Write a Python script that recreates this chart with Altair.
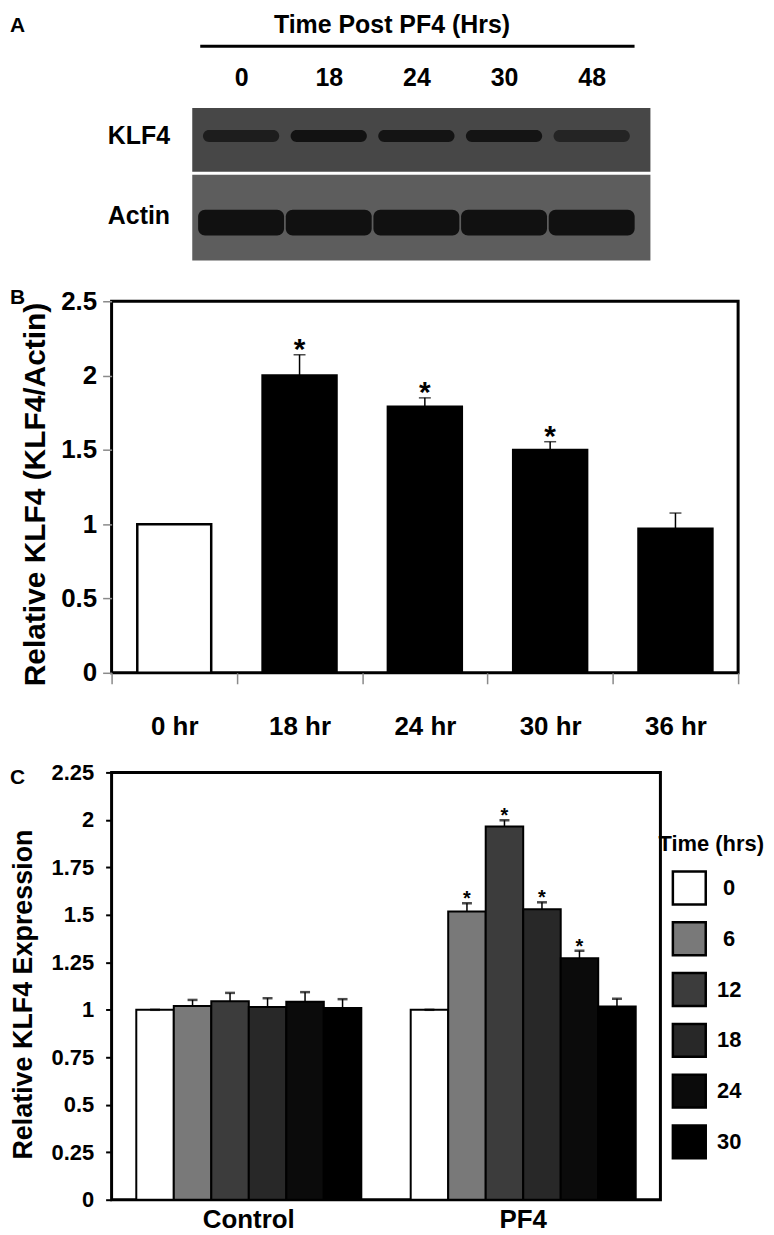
import json
import altair as alt
import pandas as pd

FONT = "Liberation Sans"

# ---------------- data ----------------
# Panel A (western blot)
A_LANES = ["0", "18", "24", "30", "48"]
A_ROWS = ["KLF4", "Actin"]
A_KLF4_BAND = [0.72, 0.92, 0.9, 0.9, 0.62]
A_ACTIN_BAND = [0.97, 0.97, 0.97, 0.97, 0.97]

# Panel B
B_TIMES = ["0 hr", "18 hr", "24 hr", "30 hr", "36 hr"]
B_MEAN = [1.0, 2.0, 1.79, 1.5, 0.97]
B_UPPER = [1.0, 2.14, 1.85, 1.555, 1.075]
B_SIG = [False, True, True, True, False]

# Panel C
C_GROUPS = ["Control", "PF4"]
C_TIMES = ["0", "6", "12", "18", "24", "30"]
C_CONTROL_MEAN = [1.0, 1.02, 1.045, 1.015, 1.042, 1.01]
C_CONTROL_UPPER = [1.0, 1.052, 1.089, 1.061, 1.093, 1.056]
C_CONTROL_SIG = [False, False, False, False, False, False]
C_PF4_MEAN = [1.0, 1.517, 1.965, 1.53, 1.271, 1.017]
C_PF4_UPPER = [1.0, 1.561, 1.998, 1.566, 1.311, 1.058]
C_PF4_SIG = [False, True, True, True, True, False]

# ---------------- styles ----------------
B_COLORS = ["#ffffff", "#000000", "#000000", "#000000", "#000000"]
C_COLORS = ["#ffffff", "#797979", "#3c3c3c", "#282828", "#0b0b0b", "#000000"]
STRIP_COLORS = ["#474747", "#5d5d5d"]

PANEL_GAP = 100

# ---------------- panel A ----------------
A_W = 550
A_BLOT_H = 153          # full blot height (KLF4 strip + Actin strip)
A_H = 194 - PANEL_GAP   # layout height of panel A (blot overflows below)
LANE_PX = 88.0
LANE1_OFFSET = 130.0
x_lo = 1 - LANE1_OFFSET / LANE_PX
x_hi = x_lo + A_W / LANE_PX
xsA = alt.Scale(domain=[x_lo, x_hi], nice=False, zero=False)
ysA = alt.Scale(domain=[0, A_H], reverse=True, nice=False, zero=False)

axA = alt.Axis(
    orient="top", values=[1, 2, 3, 4, 5],
    labelExpr=f"{json.dumps(A_LANES)}[datum.value - 1]",
    labelFontSize=25, labelFontWeight="bold", labelBaseline="alphabetic",
    labelPadding=23, ticks=False, tickSize=0, domain=False, grid=False,
    title="Time Post PF4 (Hrs)", titleFontSize=25, titleFontWeight="bold",
    titleBaseline="top", titleX=281, titleY=-96,
)

strip_layout = {"KLF4": (0, 64), "Actin": (67, A_BLOT_H)}
band_layout = {"KLF4": (28, 12, 0.87), "Actin": (115, 26, 0.98)}
label_layout = {"KLF4": 28, "Actin": 108}

strips = pd.DataFrame({
    "row": A_ROWS,
    "x0": [0.443, 0.443], "x1": [5.67, 5.67],
    "y0": [strip_layout[r][0] for r in A_ROWS],
    "y1": [strip_layout[r][1] for r in A_ROWS],
})

band_rows = []
for row, vals in zip(A_ROWS, [A_KLF4_BAND, A_ACTIN_BAND]):
    cy, h, w = band_layout[row]
    for i, (lane, v) in enumerate(zip(A_LANES, vals)):
        c = i + 1
        band_rows.append({"row": row, "lane": lane, "intensity": v,
                          "x0": c - w / 2, "x1": c + w / 2,
                          "y0": cy - h / 2, "y1": cy + h / 2})
bands = pd.DataFrame(band_rows)

rowlabels = pd.DataFrame({"row": A_ROWS, "x0": [0.19, 0.19],
                          "y0": [label_layout[r] for r in A_ROWS]})
headline = pd.DataFrame({"x0": [0.534], "x1": [5.489], "y0": [-62]})

a_strips = alt.Chart(strips).mark_rect().encode(
    x=alt.X("x0:Q", scale=xsA, axis=axA), x2="x1:Q",
    y=alt.Y("y0:Q", scale=ysA, axis=None), y2="y1:Q",
    fill=alt.Fill("row:N", scale=alt.Scale(domain=A_ROWS, range=STRIP_COLORS), legend=None),
)
a_bands = alt.Chart(bands).mark_rect(color="#0e0e0e", cornerRadius=7).encode(
    x=alt.X("x0:Q", scale=xsA, axis=axA), x2="x1:Q",
    y=alt.Y("y0:Q", scale=ysA, axis=None), y2="y1:Q",
    opacity=alt.Opacity("intensity:Q", scale=alt.Scale(domain=[0, 1], range=[0, 1]), legend=None),
)
a_line = alt.Chart(headline).mark_rule(color="black", strokeWidth=3).encode(
    x=alt.X("x0:Q", scale=xsA, axis=axA), x2="x1:Q",
    y=alt.Y("y0:Q", scale=ysA, axis=None),
)
a_labels = alt.Chart(rowlabels).mark_text(
    align="right", baseline="middle", font=FONT, fontSize=25, fontWeight="bold", color="black"
).encode(
    x=alt.X("x0:Q", scale=xsA, axis=axA),
    y=alt.Y("y0:Q", scale=ysA, axis=None),
    text="row:N",
)

def letter(t, dy):
    return alt.TitleParams(text=t, anchor="start", frame="group", dx=-102, dy=dy, offset=0,
                           fontSize=21, font=FONT, fontWeight="bold", color="black")

panelA = alt.layer(a_strips, a_bands, a_line, a_labels).properties(
    width=A_W, height=A_H, title=letter("A", 24),
    view=alt.ViewBackground(stroke="transparent"),
)

# ---------------- panel B ----------------
B_W, B_H = 629, 373
bdf = pd.DataFrame({"time": B_TIMES, "mean": B_MEAN, "upper": B_UPPER, "sig": B_SIG})
bx = alt.X("time:N", sort=B_TIMES, scale=alt.Scale(paddingInner=0, paddingOuter=0),
           axis=alt.Axis(title=None, labelAngle=0, tickBand="extent", tickSize=11,
                         tickColor="#8a8a8a", tickWidth=1.5, domain=False, grid=False,
                         labelFontSize=26, labelFontWeight="bold", labelBaseline="alphabetic",
                         labelPadding=51))
bys = alt.Scale(domain=[0, 2.5], nice=False)
by_axis = alt.Axis(values=[0, 0.5, 1, 1.5, 2, 2.5], format=".3~g", labelFontSize=26,
                   labelFontWeight="bold", labelPadding=6, tickSize=9, tickColor="#8a8a8a",
                   tickWidth=1.5, domain=False, grid=False,
                   title="Relative KLF4 (KLF4/Actin)", titleFontSize=30, titleFontWeight="bold",
                   titleX=-67, titleY=B_H / 2 + 7, titleBaseline="alphabetic", titleLimit=1000)

b_bars = alt.Chart(bdf).mark_bar(width=alt.RelativeBandSize(0.59), stroke="black", strokeWidth=2.5).encode(
    x=bx, y=alt.Y("mean:Q", scale=bys, axis=by_axis),
    fill=alt.Fill("time:N", sort=B_TIMES, scale=alt.Scale(domain=B_TIMES, range=B_COLORS), legend=None),
)
b_err = alt.Chart(bdf).transform_filter("datum.upper > datum.mean").mark_rule(
    color="black", strokeWidth=1.5).encode(
    x=bx, y=alt.Y("mean:Q", scale=bys, axis=by_axis), y2="upper:Q")
b_cap = alt.Chart(bdf).transform_filter("datum.upper > datum.mean").mark_tick(
    color="black", size=12, thickness=1.5).encode(
    x=bx, y=alt.Y("upper:Q", scale=bys, axis=by_axis))
b_star = alt.Chart(bdf).transform_filter("datum.sig").mark_text(
    text="*", font=FONT, fontSize=30, fontWeight="bold", color="black",
    baseline="alphabetic", dy=4).encode(
    x=bx, y=alt.Y("upper:Q", scale=bys, axis=by_axis))

panelB = alt.layer(b_bars, b_err, b_cap, b_star).properties(
    width=B_W, height=B_H, title=letter("B", 20))

# ---------------- panel C ----------------
C_W, C_H = 551, 429
crows = []
for g, means, ups, sigs in [("Control", C_CONTROL_MEAN, C_CONTROL_UPPER, C_CONTROL_SIG),
                            ("PF4", C_PF4_MEAN, C_PF4_UPPER, C_PF4_SIG)]:
    for t, m, u, s in zip(C_TIMES, means, ups, sigs):
        crows.append({"group": g, "time": t, "mean": m, "upper": u, "sig": s})
cdf = pd.DataFrame(crows)

cx = alt.X("group:N", sort=C_GROUPS, scale=alt.Scale(paddingInner=0.18, paddingOuter=0.09),
           axis=alt.Axis(title=None, labelAngle=0, ticks=False, tickSize=0, domain=False, grid=False,
                         labelFontSize=26, labelFontWeight="bold", labelBaseline="alphabetic",
                         labelPadding=28))
cxo = alt.XOffset("time:N", sort=C_TIMES, scale=alt.Scale(paddingInner=0, paddingOuter=0))
cys = alt.Scale(domain=[0, 2.25], nice=False)
cy_axis = alt.Axis(values=[0, 0.25, 0.5, 0.75, 1, 1.25, 1.5, 1.75, 2, 2.25], format=".3~g",
                   labelFontSize=22, labelFontWeight="bold", labelPadding=12, tickSize=6,
                   tickColor="black", tickWidth=2, domain=False, grid=False,
                   title="Relative KLF4 Expression", titleFontSize=27, titleFontWeight="bold",
                   titleX=-80, titleY=C_H / 2 + 8, titleBaseline="alphabetic", titleLimit=1000)

c_legend = alt.Legend(
    orient="none", legendX=549, legendY=62, direction="vertical", padding=0,
    title="Time (hrs)", titleFont=FONT, titleFontSize=22, titleFontWeight="bold", titleColor="black",
    titlePadding=14, symbolType="square", symbolSize=1089, symbolStrokeColor="black",
    symbolStrokeWidth=2.5, symbolOffset=13, labelFont=FONT, labelFontSize=22,
    labelFontWeight="bold", labelColor="black", labelAlign="center", labelOffset=22, rowPadding=7,
)

c_bars = alt.Chart(cdf).mark_bar(stroke="black", strokeWidth=2).encode(
    x=cx, xOffset=cxo, y=alt.Y("mean:Q", scale=cys, axis=cy_axis),
    fill=alt.Fill("time:N", sort=C_TIMES, scale=alt.Scale(domain=C_TIMES, range=C_COLORS), legend=c_legend),
)
c_err = alt.Chart(cdf).transform_filter("datum.upper > datum.mean").mark_rule(
    color="black", strokeWidth=1.5).encode(
    x=cx, xOffset=cxo, y=alt.Y("mean:Q", scale=cys, axis=cy_axis), y2="upper:Q")
c_cap = alt.Chart(cdf).mark_tick(color="black", size=10, thickness=2.5).encode(
    x=cx, xOffset=cxo, y=alt.Y("upper:Q", scale=cys, axis=cy_axis))
c_star = alt.Chart(cdf).transform_filter("datum.sig").mark_text(
    text="*", font=FONT, fontSize=20, fontWeight="bold", color="black",
    baseline="alphabetic", dy=2).encode(
    x=cx, xOffset=cxo, y=alt.Y("upper:Q", scale=cys, axis=cy_axis))

panelC = alt.layer(c_bars, c_err, c_cap, c_star).properties(
    width=C_W, height=C_H, title=letter("C", 27))

# ---------------- assemble ----------------
chart = alt.VConcatChart(
    vconcat=[panelA, panelB, panelC], spacing=PANEL_GAP, bounds="flush"
).resolve_scale(
    fill="independent", opacity="independent"
).resolve_legend(
    fill="independent", opacity="independent"
).properties(
    padding=0
).configure_view(stroke="black", strokeWidth=3).configure_axis(
    labelFont=FONT, titleFont=FONT, labelColor="black", titleColor="black"
).configure_title(font=FONT)

chart.save("out.html", embed_options={"renderer": "svg", "actions": False})
